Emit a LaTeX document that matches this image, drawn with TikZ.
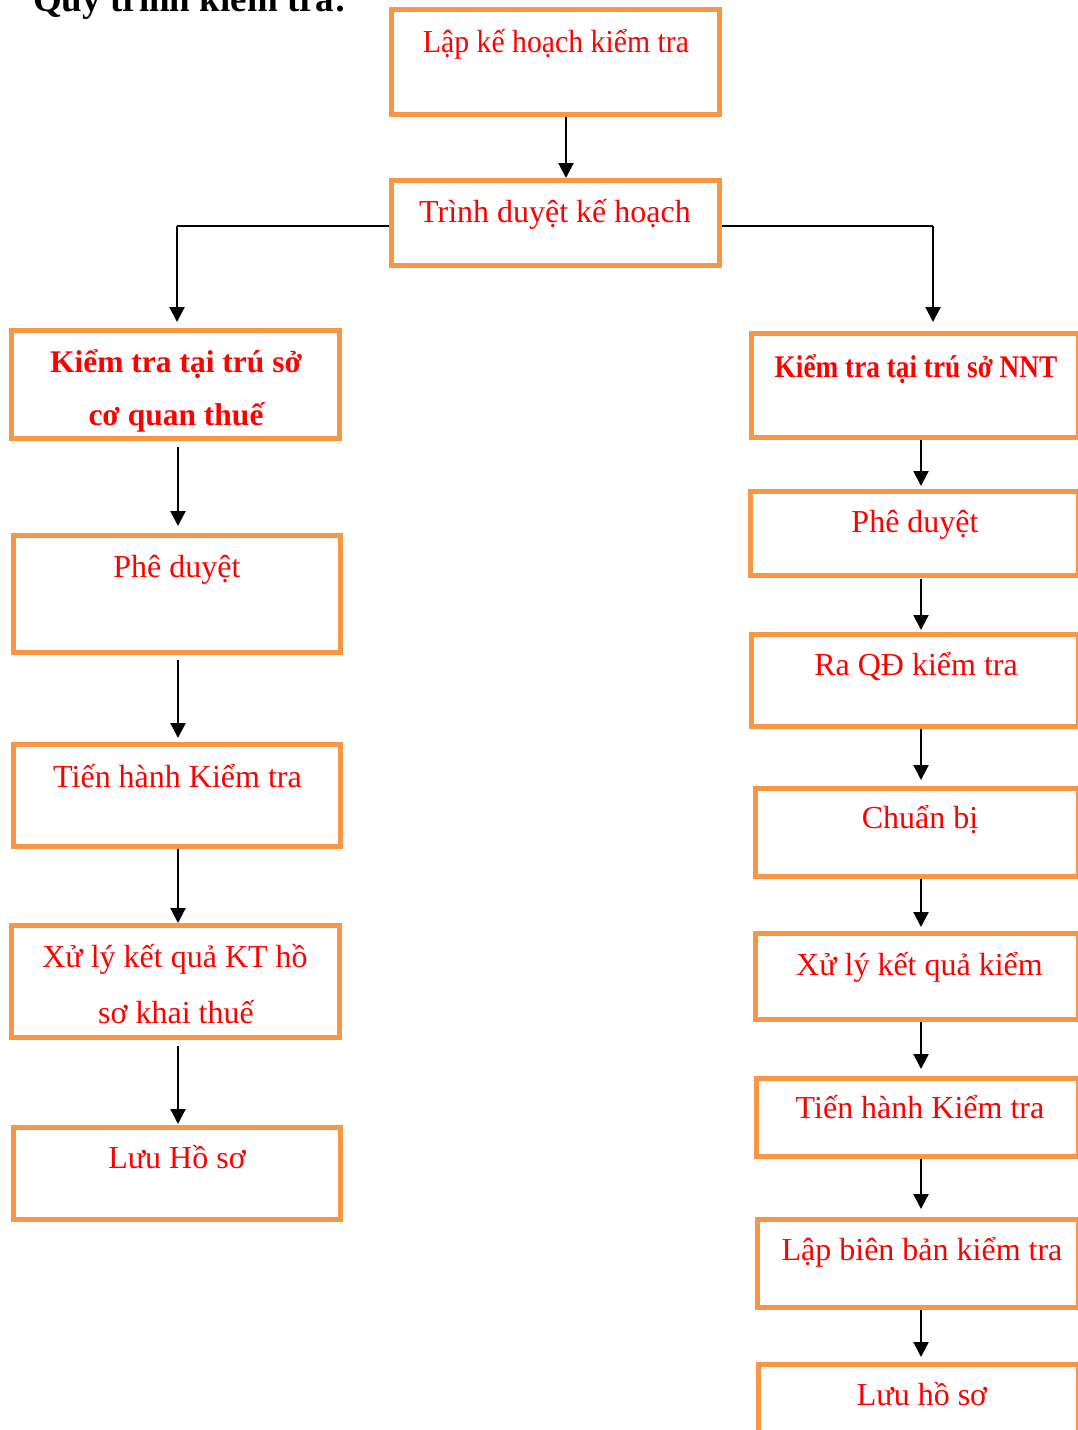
\documentclass[tikz,border=0pt]{standalone}
\usepackage{fontspec}
\setmainfont{Liberation Serif}
\usetikzlibrary{arrows.meta}
\definecolor{boxorange}{HTML}{F79646}
\definecolor{steptxtcolor}{HTML}{FF0000}

\begin{document}
\begin{tikzpicture}[x=1pt,y=-1pt,
  stepbox/.style={draw=boxorange, line width=5pt, fill=white, inner sep=0pt},
  steptxt/.style={text=steptxtcolor, font=\fontsize{32}{38}\selectfont, anchor=base, inner sep=0pt},
  stepbold/.style={steptxt, font=\fontsize{31.5}{38}\selectfont\bfseries},
  flow/.style={draw=black, line width=2.2pt, -{Triangle[length=15pt,width=15pt]}},
  feed/.style={draw=black, line width=1.4pt},
  heading/.style={font=\fontsize{37}{40}\selectfont\bfseries, anchor=base west, inner sep=0pt}
]
\useasboundingbox (0,0) rectangle (1078,1430);

% heading, partly above the page edge
\node[heading] (ttl) at (33,11) {Quy trình kiểm tra:};

% common steps
\node[stepbox, minimum width=328pt, minimum height=105pt] (T1) at (555.5,62) {};
\node[steptxt] (T1t) at (556,52) {\scalebox{0.93}[1]{Lập kế hoạch kiểm tra}};
\node[stepbox, minimum width=328pt, minimum height=85pt] (T2) at (555.5,223) {};
\node[steptxt] (T2t) at (555,222) {Trình duyệt kế hoạch};

% left branch: at the tax office
\node[stepbox, minimum width=328pt, minimum height=108pt] (L1) at (175.5,384.5) {};
\node[stepbold] (L1a) at (176,372) {Kiểm tra tại trú sở};
\node[stepbold] (L1b) at (176,425) {cơ quan thuế};
\node[stepbox, minimum width=327pt, minimum height=117pt] (L2) at (177,594) {};
\node[steptxt] (L2t) at (177,577) {Phê duyệt};
\node[stepbox, minimum width=327pt, minimum height=102pt] (L3) at (177,795.5) {};
\node[steptxt] (L3t) at (177.5,787) {Tiến hành Kiểm tra};
\node[stepbox, minimum width=328pt, minimum height=112pt] (L4) at (175.5,981.5) {};
\node[steptxt] (L4a) at (175,967) {Xử lý kết quả KT hồ};
\node[steptxt] (L4b) at (176,1023) {sơ khai thuế};
\node[stepbox, minimum width=327pt, minimum height=92pt] (L5) at (177,1173.5) {};
\node[steptxt] (L5t) at (177,1168) {Lưu Hồ sơ};

% right branch: at the taxpayer's premises
\node[stepbox, minimum width=327pt, minimum height=104pt] (R1) at (915,385.5) {};
\node[stepbold] (R1t) at (916,377) {\scalebox{0.866}[1]{Kiểm tra tại trú sở NNT}};
\node[stepbox, minimum width=328pt, minimum height=84pt] (R2) at (914.5,533.5) {};
\node[steptxt] (R2t) at (915,532) {Phê duyệt};
\node[stepbox, minimum width=327pt, minimum height=92pt] (R3) at (915,680.5) {};
\node[steptxt] (R3t) at (916,675) {Ra QĐ kiểm tra};
\node[stepbox, minimum width=323pt, minimum height=88pt] (R4) at (917,832.5) {};
\node[steptxt] (R4t) at (920,828) {Chuẩn bị};
\node[stepbox, minimum width=323pt, minimum height=86pt] (R5) at (917,976.5) {};
\node[steptxt] (R5t) at (919.5,975) {Xử lý kết quả kiểm};
\node[stepbox, minimum width=322pt, minimum height=78pt] (R6) at (917.5,1117.5) {};
\node[steptxt] (R6t) at (920,1118) {Tiến hành Kiểm tra};
\node[stepbox, minimum width=321pt, minimum height=88pt] (R7) at (918,1263.5) {};
\node[steptxt] (R7t) at (922,1260) {Lập biên bản kiểm tra};
\node[stepbox, minimum width=320pt, minimum height=93pt] (R8) at (918.5,1411) {};
\node[steptxt] (R8t) at (922,1405) {Lưu hồ sơ};

% connector columns and junctions
\coordinate (xt) at (566,0);
\coordinate (xl) at (178,0);
\coordinate (xr) at (921,0);
\coordinate (jl) at (177,226);
\coordinate (jr) at (933,226);

\draw[flow] (T1.south -| xt) -- (T2.north -| xt);

\draw[feed] (T2.west |- jl) -- (jl);
\draw[flow, shorten >=6pt] (jl) -- (jl |- L1.north);
\draw[feed] (T2.east |- jr) -- (jr);
\draw[flow, shorten >=9pt] (jr) -- (jr |- R1.north);

\draw[flow, shorten <=6pt, shorten >=7pt] (L1.south -| xl) -- (L2.north -| xl);
\draw[flow, shorten <=5pt, shorten >=4pt] (L2.south -| xl) -- (L3.north -| xl);
\draw[flow] (L3.south -| xl) -- (L4.north -| xl);
\draw[flow, shorten <=6pt, shorten >=1pt] (L4.south -| xl) -- (L5.north -| xl);

\draw[flow, shorten >=3pt] (R1.south -| xr) -- (R2.north -| xr);
\draw[flow, shorten <=1pt, shorten >=2pt] (R2.south -| xr) -- (R3.north -| xr);
\draw[flow, shorten >=6pt] (R3.south -| xr) -- (R4.north -| xr);
\draw[flow, shorten >=4pt] (R4.south -| xr) -- (R5.north -| xr);
\draw[flow, shorten >=7pt] (R5.south -| xr) -- (R6.north -| xr);
\draw[flow, shorten >=8pt] (R6.south -| xr) -- (R7.north -| xr);
\draw[flow, shorten >=5pt] (R7.south -| xr) -- (R8.north -| xr);
\end{tikzpicture}
\end{document}
